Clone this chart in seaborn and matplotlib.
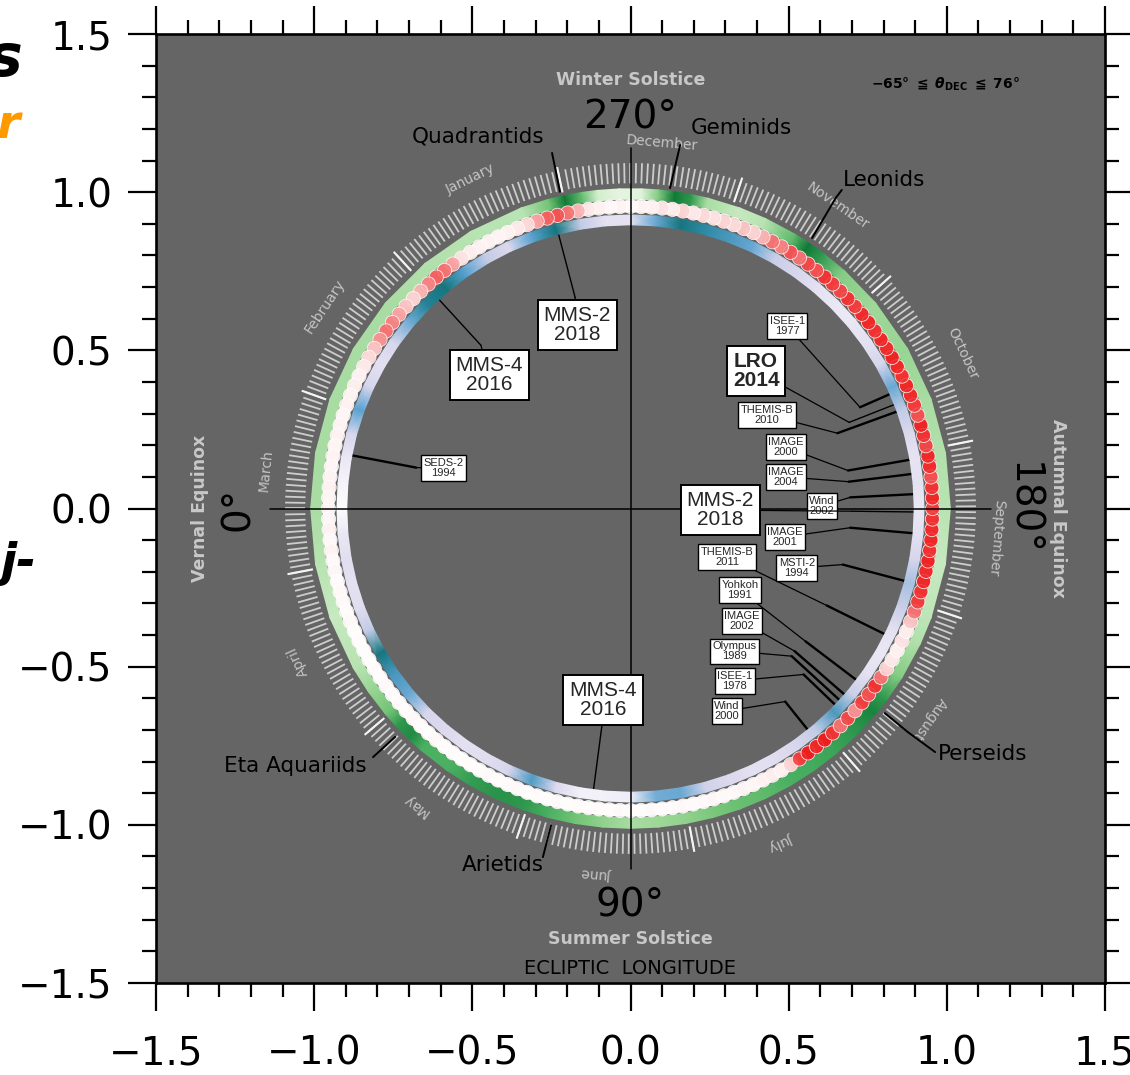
import numpy as np
import pandas as pd
import matplotlib
matplotlib.use("Agg")
import matplotlib.pyplot as plt
from matplotlib.colors import LinearSegmentedColormap
from matplotlib.collections import LineCollection
from matplotlib.ticker import MultipleLocator, FuncFormatter
import seaborn as sns

# ---------------------------------------------------------------------------
# Data
# ---------------------------------------------------------------------------
# Meteor-shower activity along the ecliptic (outer green ring)
shower_lon = [0, 10, 20, 30, 35, 40, 43, 46, 49, 55, 60, 65, 70, 75, 80, 85, 90,
              95, 100, 105, 110, 115, 120, 125, 130, 135, 140, 143, 148, 155, 160,
              170, 180, 190, 200, 210, 220, 228, 233, 236, 239, 245, 250, 256, 259,
              262, 265, 268, 272, 276, 279, 282, 285, 290, 300, 310, 320, 330, 340,
              350, 360]
shower_level = [0.35, 0.30, 0.25, 0.30, 0.40, 0.50, 0.70, 0.75, 0.60, 0.60, 0.68,
                0.72, 0.70, 0.60, 0.50, 0.42, 0.35, 0.38, 0.42, 0.48, 0.52, 0.55,
                0.60, 0.62, 0.65, 0.70, 0.78, 0.70, 0.45, 0.32, 0.28, 0.25, 0.30,
                0.32, 0.35, 0.40, 0.38, 0.45, 0.70, 0.82, 0.55, 0.30, 0.25, 0.35,
                0.70, 0.82, 0.45, 0.15, 0.12, 0.20, 0.55, 0.82, 0.50, 0.30, 0.30,
                0.32, 0.35, 0.35, 0.35, 0.35, 0.35]

# Impact detections (middle ring of dots), one value every 2 degrees
impact_lon = list(range(0, 360, 2))
impact_level = [
    0.08, 0.06, 0.10, 0.05, 0.08, 0.04, 0.06, 0.03, 0.05, 0.04, 0.03, 0.05, 0.02, 0.03, 0.02,
    0.02, 0.03, 0.02, 0.04, 0.02, 0.03, 0.02, 0.05, 0.03, 0.02, 0.04, 0.02, 0.03, 0.02, 0.03,
    0.02, 0.04, 0.02, 0.03, 0.05, 0.02, 0.03, 0.02, 0.04, 0.02, 0.03, 0.02, 0.03, 0.02, 0.04,
    0.03, 0.02, 0.04, 0.02, 0.03, 0.05, 0.03, 0.04, 0.06, 0.04, 0.05, 0.08, 0.06, 0.10, 0.12,
    0.10, 0.30, 0.80, 0.95, 0.90, 0.95, 0.85, 0.60, 0.75, 0.50, 0.80, 0.70, 0.85, 0.60, 0.30,
    0.15, 0.10, 0.20, 0.12, 0.35, 0.60, 0.80, 0.85, 0.90, 0.88, 0.92, 0.85, 0.90, 0.88, 0.85,
    0.80, 0.90, 0.85, 0.70, 0.88, 0.90, 0.75, 0.85, 0.92, 0.70, 0.80, 0.88, 0.90, 0.85, 0.90,
    0.92, 0.88, 0.90, 0.85, 0.90, 0.88, 0.80, 0.85, 0.75, 0.80, 0.85, 0.70, 0.75, 0.60, 0.70,
    0.55, 0.60, 0.40, 0.30, 0.35, 0.25, 0.30, 0.20, 0.25, 0.15, 0.30, 0.12, 0.20, 0.10, 0.08,
    0.05, 0.08, 0.05, 0.10, 0.15, 0.40, 0.60, 0.70, 0.65, 0.45, 0.25, 0.15, 0.10, 0.08, 0.10,
    0.10, 0.12, 0.20, 0.45, 0.60, 0.65, 0.55, 0.40, 0.30, 0.35, 0.45, 0.55, 0.60, 0.50, 0.35,
    0.25, 0.15, 0.10, 0.12, 0.08, 0.10, 0.06, 0.08, 0.10, 0.07, 0.09, 0.06, 0.08, 0.10, 0.07,
]

# Spacecraft coverage (inner ring), one value every 5 degrees
coverage_lon = list(range(0, 365, 5))
coverage_level = [
    0.02, 0.15, 0.22, 0.20, 0.22, 0.45, 0.88, 0.70, 0.62, 0.30, 0.25, 0.20,
    0.22, 0.30, 0.68, 0.25, 0.10, 0.10, 0.12, 0.60, 0.62, 0.35, 0.25, 0.20,
    0.22, 0.28, 0.45, 0.70, 0.40, 0.20, 0.15, 0.20, 0.40, 0.50, 0.30, 0.20,
    0.15, 0.20, 0.18, 0.25, 0.45, 0.62, 0.30, 0.20, 0.15, 0.15, 0.20, 0.30,
    0.40, 0.62, 0.70, 0.78, 0.88, 0.62, 0.20, 0.20, 0.45, 0.88, 0.65, 0.25,
    0.45, 0.65, 0.88, 0.82, 0.60, 0.30, 0.20, 0.30, 0.65, 0.30, 0.15, 0.08,
    0.02,
]

# Calendar
months = ["January", "February", "March", "April", "May", "June", "July",
          "August", "September", "October", "November", "December"]
month_start_doy = [1, 32, 60, 91, 121, 152, 182, 213, 244, 274, 305, 335]

# Named meteor showers
shower_names = ["Quadrantids", "Geminids", "Leonids", "Perseids",
                "Eta Aquariids", "Arietids"]

# Spacecraft ecliptic longitudes
craft_names = ["MMS-2", "MMS-4", "SEDS-2", "LRO", "ISEE-1", "THEMIS-B", "IMAGE",
               "IMAGE", "Wind", "MMS-2", "IMAGE", "THEMIS-B", "MSTI-2", "Yohkoh",
               "IMAGE", "Olympus", "ISEE-1", "Wind", "MMS-4"]
craft_years = ["2018", "2016", "1994", "2014", "1977", "2010", "2000", "2004",
               "2002", "2018", "2001", "2011", "1994", "1991", "2002", "1989",
               "1978", "2000", "2016"]
craft_lon = [284.7, 312.5, 349.2, 201.5, 203.8, 200.0, 189.9, 187.0, 182.9,
             179.3, 175.0, 153.7, 165.2, 142.8, 139.0, 137.5, 136.2, 128.7, 82.5]

# ---------------------------------------------------------------------------
# Layout
# ---------------------------------------------------------------------------
# label box centre, connector elbow radius, box style ("big", "bold", "small")
craft_box_xy = [(-0.169, 0.580), (-0.447, 0.422), (-0.590, 0.128), (0.397, 0.435),
                (0.495, 0.577), (0.431, 0.296), (0.491, 0.194), (0.491, 0.100),
                (0.605, 0.008), (0.283, -0.005), (0.488, -0.090), (0.305, -0.153),
                (0.526, -0.188), (0.346, -0.258), (0.352, -0.356), (0.330, -0.451),
                (0.330, -0.545), (0.305, -0.640), (-0.087, -0.605)]
craft_elbow_r = [0.69, 0.70, 0.69, 0.743, 0.793, 0.696, 0.698, 0.695, 0.695, 0.70,
                 0.697, 0.692, 0.694, 0.695, 0.687, 0.691, 0.758, 0.782, 0.69]
craft_style = ["big", "big", "small", "bold", "small", "small", "small", "small",
               "small", "big", "small", "small", "small", "small", "small", "small",
               "small", "small", "big"]

shower_text_xy = [(-0.482, 1.175), (0.352, 1.203), (0.802, 1.039), (1.114, -0.776),
                  (-1.061, -0.814), (-0.403, -1.127)]
shower_leader = [[(-0.248, 1.124), (-0.223, 1.001)],
                 [(0.157, 1.149), (0.125, 1.013)],
                 [(0.668, 1.007), (0.649, 0.982), (0.574, 0.855)],
                 [(0.963, -0.770), (0.877, -0.707), (0.804, -0.647)],
                 [(-0.814, -0.786), (-0.744, -0.722)],
                 [(-0.277, -1.102), (-0.251, -1.001)]]


def to_xy(lon, r):
    """Ecliptic longitude (deg) -> plot coordinates; 0 deg on the left, 90 at the bottom."""
    phi = np.deg2rad(np.asarray(lon, dtype=float) + 180.0)
    return r * np.cos(phi), r * np.sin(phi)


def doy_to_lon(doy):
    return (np.asarray(doy, dtype=float) - 80.0) * 360.0 / 365.25


def tick_fmt(v, _pos):
    if abs(v) < 1e-9:
        v = 0.0
    return f"{v:.1f}".replace("-", "\u2212")


# ---------------------------------------------------------------------------
# Figure
# ---------------------------------------------------------------------------
sns.set_style("ticks")
plt.rcParams["font.family"] = ["DejaVu Sans"]

fig = plt.figure(figsize=(11.3, 10.75), dpi=100)
ax = fig.add_axes([156 / 1130, 92 / 1075, 949 / 1130, 949 / 1075])
ax.set_facecolor("#656565")
ax.set_xlim(-1.5, 1.5)
ax.set_ylim(-1.5, 1.5)

for s in ax.spines.values():
    s.set_linewidth(1.9)
    s.set_color("black")
ax.xaxis.set_major_locator(MultipleLocator(0.5))
ax.yaxis.set_major_locator(MultipleLocator(0.5))
ax.xaxis.set_minor_locator(MultipleLocator(0.1))
ax.yaxis.set_minor_locator(MultipleLocator(0.1))
ax.xaxis.set_major_formatter(FuncFormatter(tick_fmt))
ax.yaxis.set_major_formatter(FuncFormatter(tick_fmt))
ax.tick_params(which="both", direction="out", top=True, right=True, width=1.6,
               color="black", labelcolor="black", labelsize=28)
ax.tick_params(which="major", length=20)
ax.tick_params(which="minor", length=10)
ax.tick_params(axis="x", which="major", pad=17)
ax.tick_params(axis="y", which="major", pad=11.5)

# Daily tick marks and month boundaries
days = np.arange(1, 366)
lon_days = doy_to_lon(days)
x0, y0 = to_xy(lon_days, 1.028)
x1, y1 = to_xy(lon_days, 1.092)
ax.add_collection(LineCollection(np.stack([np.c_[x0, y0], np.c_[x1, y1]], axis=1),
                                 colors="#cdcdcd", linewidths=1.3, zorder=2))
lon_m = doy_to_lon(month_start_doy)
x0, y0 = to_xy(lon_m, 1.022)
x1, y1 = to_xy(lon_m, 1.104)
ax.add_collection(LineCollection(np.stack([np.c_[x0, y0], np.c_[x1, y1]], axis=1),
                                 colors="#f4f4f4", linewidths=1.5, zorder=2))

# Month names, written along the circle
for name, start in zip(months, month_start_doy):
    lon = float(doy_to_lon(start + 14))
    mx, my = to_xy(lon, 1.158)
    rot = (lon + 180.0) - 90.0
    rot = (rot + 180.0) % 360.0 - 180.0
    ax.text(mx, my, name, rotation=rot, rotation_mode="anchor", ha="center",
            va="center", fontsize=10, color="#c4c4c4", zorder=3)


def ring(lon, level, r0, r1, cmap, z):
    lon = np.asarray(lon, dtype=float)
    phi = np.deg2rad(lon + 180.0)[None, :]
    rr = np.array([r0, r1])[:, None]
    c = np.vstack([level, level])
    ax.pcolormesh(rr * np.cos(phi), rr * np.sin(phi), c, cmap=cmap, vmin=0, vmax=1,
                  shading="gouraud", zorder=z)


# Outer ring: meteor-shower activity
ring(shower_lon, shower_level, 0.978, 1.011, "Greens", 3)

# Inner ring: spacecraft coverage
cov_cmap = LinearSegmentedColormap.from_list(
    "cov", [(0.0, "#ffffff"), (0.25, "#ddd9ee"), (0.45, "#c3cce6"),
            (0.65, "#5aa2d0"), (0.85, "#1b7d8c"), (1.0, "#035c52")])
ring(coverage_lon, coverage_level, 0.897, 0.928, cov_cmap, 3)

# Middle ring: impact detections, a soft band with the individual detections on top
imp_cmap = LinearSegmentedColormap.from_list(
    "imp", [(0.0, "#ffffff"), (0.3, "#fbd3d3"), (0.7, "#f25252"), (1.0, "#ee1414")])
ring(impact_lon + [360], impact_level + [impact_level[0]], 0.938, 0.972, imp_cmap, 3.5)
ix, iy = to_xy(impact_lon, 0.955)
impacts = pd.DataFrame({"x": ix, "y": iy, "level": impact_level})
sns.scatterplot(data=impacts, x="x", y="y", hue="level", palette=imp_cmap,
                hue_norm=(0, 1), s=105, edgecolor=(1, 1, 1, 0.3), linewidth=0.6,
                alpha=0.85, legend=False, ax=ax, zorder=4)
ax.set_xlabel("")
ax.set_ylabel("")

# Cross hairs
ax.plot([-1.14, 1.14], [0, 0], color="black", lw=1.1, zorder=6)
ax.plot([0, 0], [-1.14, 1.14], color="black", lw=1.1, zorder=6)

# Cardinal labels
deg_font = dict(fontsize=28, color="black")
ax.text(0, 1.236, "270°", ha="center", va="center", **deg_font)
ax.text(0, -1.254, "90°", ha="center", va="center", **deg_font)
ax.text(-1.241, 0, "0°", ha="center", va="center", rotation=90, **deg_font)
ax.text(1.238, 0, "180°", ha="center", va="center", rotation=-90, **deg_font)
season_font = dict(fontsize=12.5, fontweight="bold", color="#c8c8c8")
ax.text(0, 1.356, "Winter Solstice", ha="center", va="center", **season_font)
ax.text(0, -1.36, "Summer Solstice", ha="center", va="center", **season_font)
ax.text(-1.362, 0, "Vernal Equinox", ha="center", va="center", rotation=90, **season_font)
ax.text(1.352, 0, "Autumnal Equinox", ha="center", va="center", rotation=-90, **season_font)
ax.text(0, -1.453, "ECLIPTIC  LONGITUDE", ha="center", va="center", fontsize=14,
        color="black")
ax.text(0.995, 1.34, r"$\mathbf{-65°\ \leqq\ }\boldsymbol{\theta}_{\mathbf{DEC}}\mathbf{\ \leqq\ 76°}$",
        ha="center", va="center", fontsize=10, color="black")

# Meteor-shower call-outs
for name, txy, pts in zip(shower_names, shower_text_xy, shower_leader):
    px, py = zip(*pts)
    ax.plot(px, py, color="black", lw=1.4, zorder=7)
    ax.text(txy[0], txy[1], name, ha="center", va="center", fontsize=15.5,
            color="black", zorder=7)

# Spacecraft call-outs
box_fonts = {
    "big": dict(fontsize=15, fontweight="normal"),
    "bold": dict(fontsize=15, fontweight="bold"),
    "small": dict(fontsize=8, fontweight="normal"),
}
for name, year, lon, bxy, er, style in zip(craft_names, craft_years, craft_lon,
                                           craft_box_xy, craft_elbow_r, craft_style):
    ex, ey = to_xy(lon, er)
    rx, ry = to_xy(lon, 0.905)
    ax.plot([ex, rx], [ey, ry], color="black",
            lw=1.0 if style != "small" else 1.7, zorder=2.5)
    pad = 0.28 if style != "small" else 0.22
    ax.annotate(f"{name}\n{year}", xy=(ex, ey), xytext=bxy, ha="center",
                va="center", family=["Liberation Sans", "DejaVu Sans"],
                linespacing=1.05 if style == "small" else 1.0,
                bbox=dict(boxstyle=f"square,pad={pad}", fc="white", ec="black",
                          lw=1.4 if style != "small" else 1.0),
                arrowprops=dict(arrowstyle="-", color="black", lw=0.9,
                                shrinkA=0, shrinkB=0),
                zorder=8, **box_fonts[style])

# Title fragments at the left margin
fig.text(22 / 1130, 1 - 76 / 1075, "s", ha="right", va="baseline", fontsize=42,
         fontweight="bold", fontstyle="italic", color="black")
fig.text(20 / 1130, 1 - 138 / 1075, "r", ha="right", va="baseline", fontsize=34,
         fontweight="bold", fontstyle="italic", color="#ff9900")
fig.text(36 / 1130, 1 - 576 / 1075, "j-", ha="right", va="baseline", fontsize=34,
         fontweight="bold", fontstyle="italic", color="black")

fig.savefig("out.png", dpi=100)
